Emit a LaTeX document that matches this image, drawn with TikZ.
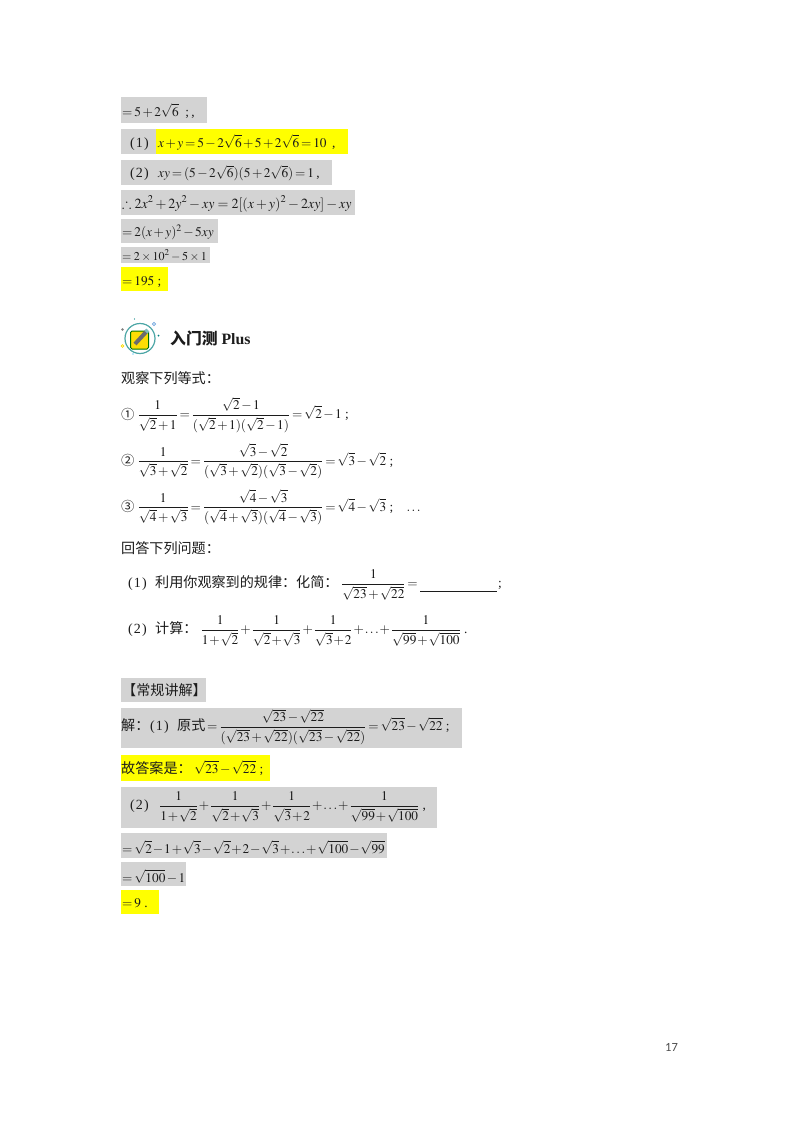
\documentclass[tikz,border=0pt]{standalone}
\usepackage{amsmath,amssymb}
\usepackage{mathptmx}
\usepackage[no-math]{fontspec}
\setmainfont{Liberation Serif}
\newfontfamily\cjk{Noto Sans CJK SC}
\newfontfamily\pgnum{Carlito}
\newcommand{\zw}[1]{{\cjk\fontsize{14.1}{16}\selectfont #1}}
\newcommand{\qn}[1]{{\fontsize{14}{16}\selectfont(\hspace{1.1pt}#1\hspace{1.1pt})}}
\newcommand{\dm}[1]{$\displaystyle #1$}
\newcommand{\mathgap}[2]{\medmuskip=#1mu\relax\thickmuskip=#2mu\relax}
\definecolor{hlgray}{RGB}{211,211,211}
\definecolor{hlyellow}{RGB}{255,255,0}
\definecolor{txt}{RGB}{28,28,28}
\tikzset{
  graybar/.style={fill=hlgray},
  yellowbar/.style={fill=hlyellow},
  line/.style={anchor=base west,inner sep=0pt,text=txt,font=\fontsize{13.3}{16}\selectfont\mathgap{2}{2.5}},
  smalline/.style={line,font=\fontsize{12}{14}\selectfont\mathgap{2.5}{3.5}},
  wideline/.style={line,font=\fontsize{14}{16}\selectfont},
  tightline/.style={line,font=\fontsize{13.3}{16}\selectfont\mathgap{1.2}{2.5}},
}
\begin{document}
\begin{tikzpicture}[x=1pt,y=-1pt]
\useasboundingbox (0,0) rectangle (800,1132);
\fill[white] (0,0) rectangle (800,1132);
% highlight bars
\fill[graybar] (121,96.5) rectangle (206.5,123);
\fill[graybar] (121,129) rectangle (156,153.5);
\fill[yellowbar] (156,129) rectangle (347.5,153.5);
\fill[graybar] (121,160) rectangle (331.5,184.5);
\fill[graybar] (121,190) rectangle (355,214.5);
\fill[graybar] (121,218.5) rectangle (218,243);
\fill[graybar] (121,247) rectangle (210,263);
\fill[yellowbar] (121,267) rectangle (167.5,291);
\fill[graybar] (121,678) rectangle (206,702);
\fill[graybar] (121,708) rectangle (462,748);
\fill[yellowbar] (121,754.5) rectangle (270,781);
\fill[graybar] (121,787) rectangle (436.5,827.5);
\fill[graybar] (121,833) rectangle (387,858);
\fill[graybar] (121,862) rectangle (186,886);
\fill[yellowbar] (121,890) rectangle (159,914);
% top block
\node[line] (a1) at (122,116) {$=5+2\sqrt{6}$\ \ ;\,,};
\node[line] (a2) at (130,147) {\qn{1}};
\node[line] (a2b) at (158,147) {$x+y=5-2\sqrt{6}+5+2\sqrt{6}=10$\ \,,};
\node[line] (a3) at (130,177.5) {\qn{2}};
\node[line] (a3b) at (158,177.5) {$xy=(5-2\sqrt{6})(5+2\sqrt{6})=1$\,,};
\node[wideline] (a4) at (122,208) {$\therefore 2x^2+2y^2-xy=2[(x+y)^2-2xy]-xy$};
\node[line] (a5) at (122,236) {$=2(x+y)^2-5xy$};
\node[smalline] (a6) at (122,260) {$=2\times10^2-5\times1$};
\node[line] (a7) at (122,285.5) {$=195$\ ;};
% icon
\node[circle,draw=teal!70,line width=1.2pt,minimum size=30pt,inner sep=0pt] (ic) at (140,338.5) {};
\node[rectangle,rounded corners=1.5pt,fill=yellow!80!orange,draw=green!45!black,line width=1pt,minimum size=18pt,inner sep=0pt] (icb) at (139.5,340) {};
\draw[line width=4pt,color=gray!85!black] (135,344) -- (147,331);
\draw[line width=4pt,color=teal!50] (146,332) -- (148,330);
\fill[gray] (122.5,329.5) circle (1.3);
\fill[teal] (158.5,335.5) circle (1);
\draw[cyan!60!blue!60,line width=.7pt] (154,324) circle (1.6);
\draw[yellow!80!orange,line width=.7pt] (122.5,346) circle (1.4);
\fill[cyan!50] (133,354) circle (.8);
\fill[teal] (134.5,319) circle (.7);
% heading
\node[line,font=\fontsize{15.8}{18}\selectfont\bfseries] (h) at (170,344) {{\cjk 入门测} Plus};
\node[line] (obs) at (121,383) {\zw{观察下列等式：}};
\node[line] (c1) at (121,419) {{\cjk ①}};
\node[line] (e1) at (137.5,418.5) {\dm{\frac{1}{\sqrt{2}+1}=\frac{\sqrt{2}-1}{(\sqrt{2}+1)(\sqrt{2}-1)}=\sqrt{2}-1}\ ;};
\node[line] (c2) at (121,465.5) {{\cjk ②}};
\node[line] (e2) at (137.5,465) {\dm{\frac{1}{\sqrt{3}+\sqrt{2}}=\frac{\sqrt{3}-\sqrt{2}}{(\sqrt{3}+\sqrt{2})(\sqrt{3}-\sqrt{2})}=\sqrt{3}-\sqrt{2}}\ ;};
\node[line] (c3) at (121,511.5) {{\cjk ③}};
\node[line] (e3) at (137.5,511) {\dm{\frac{1}{\sqrt{4}+\sqrt{3}}=\frac{\sqrt{4}-\sqrt{3}}{(\sqrt{4}+\sqrt{3})(\sqrt{4}-\sqrt{3})}=\sqrt{4}-\sqrt{3}}\ ;\ \ \ \ $\ldots$};
\node[line] (ask) at (121,553) {\zw{回答下列问题：}};
\node[line] (q1) at (128,587.5) {\qn{1}};
\node[line] (q1t) at (155,587.5) {\zw{利用你观察到的规律：化简：}};
\node[line] (q1f) at (341,587.5) {\dm{\frac{1}{\sqrt{23}+\sqrt{22}}=}};
\coordinate (ul1) at (420,591);
\coordinate (ul2) at (497,591);
\draw[txt,line width=.6pt] (ul1) -- (ul2);
\node[line] (q1s) at (498,587.5) {;};
\node[line] (q2) at (128,633.5) {\qn{2}};
\node[line] (q2t) at (155,633.5) {\zw{计算：}};
\node[tightline] (q2f) at (200.5,633.5) {\dm{\frac{1}{1+\sqrt{2}}+\frac{1}{\sqrt{2}+\sqrt{3}}+\frac{1}{\sqrt{3}+2}+\ldots+\frac{1}{\sqrt{99}+\sqrt{100}}}\ .};
% solution
\node[line] (s0) at (122,695) {\zw{【常规讲解】}};
\node[line] (s1a) at (121,730.5) {\zw{解：}};
\node[line] (s1b) at (150,730.5) {\qn{1}};
\node[line] (s1c) at (177,730.5) {\zw{原式}};
\node[line] (s1) at (207,730.5) {\dm{=\frac{\sqrt{23}-\sqrt{22}}{(\sqrt{23}+\sqrt{22})(\sqrt{23}-\sqrt{22})}=\sqrt{23}-\sqrt{22}}\ ;};
\node[line] (s2a) at (121,773) {\zw{故答案是：}};
\node[line] (s2) at (194,773) {\dm{\sqrt{23}-\sqrt{22}}\ ;};
\node[line] (s3) at (130,809.5) {\qn{2}};
\node[tightline] (s3f) at (159,809.5) {\dm{\frac{1}{1+\sqrt{2}}+\frac{1}{\sqrt{2}+\sqrt{3}}+\frac{1}{\sqrt{3}+2}+\ldots+\frac{1}{\sqrt{99}+\sqrt{100}}}\ ,};
\node[tightline] (s4) at (122,853) {$=\sqrt{2}-1+\sqrt{3}-\sqrt{2}+2-\sqrt{3}+\ldots+\sqrt{100}-\sqrt{99}$};
\node[line] (s5) at (122,882) {$=\sqrt{100}-1$};
\node[line] (s6) at (122,907) {$=9$\ .};
\node[anchor=base,inner sep=0pt,text=black!70,font=\pgnum\fontsize{12.5}{14}\selectfont] (pg) at (671.5,1051) {17};
\end{tikzpicture}
\end{document}
